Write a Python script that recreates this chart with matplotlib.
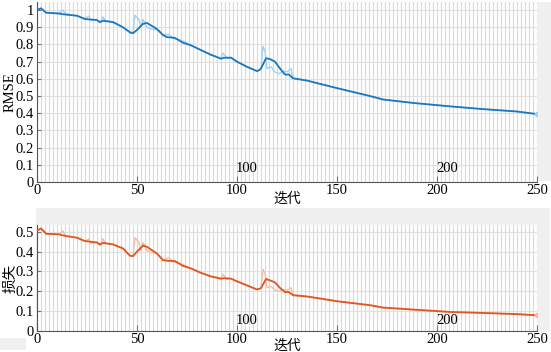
import numpy as np
import matplotlib
matplotlib.use('Agg')
import matplotlib.pyplot as plt
from matplotlib.patches import Rectangle
from matplotlib.ticker import MultipleLocator, FuncFormatter

plt.rcParams['font.family'] = ['Liberation Serif', 'Noto Sans CJK SC']

# Courbe RMSE lissée
it_smooth = [0, 2, 4.5, 11, 13.5, 20, 24, 30, 31.5, 33, 38, 43, 46.5, 48, 50, 53, 55,
             60, 63, 65, 69, 73, 77, 82, 87, 92, 93.5, 97, 100, 105, 110, 111, 112,
             114.5, 116.5, 119, 121.5, 124, 126, 128, 135, 150, 166.5, 173, 188,
             206.5, 223, 240, 250]
rmse_smooth = [1.0, 1.01, 0.985, 0.98, 0.975, 0.967, 0.948, 0.942, 0.93, 0.938, 0.93,
               0.9, 0.87, 0.865, 0.885, 0.92, 0.925, 0.89, 0.855, 0.843, 0.838, 0.81,
               0.795, 0.767, 0.74, 0.717, 0.723, 0.723, 0.70, 0.67, 0.645, 0.65, 0.66,
               0.72, 0.715, 0.70, 0.66, 0.625, 0.625, 0.603, 0.59, 0.546, 0.50, 0.48,
               0.46, 0.44, 0.424, 0.41, 0.395]
loss_smooth = [0.505, 0.517, 0.49, 0.487, 0.48, 0.47, 0.453, 0.446, 0.436, 0.444, 0.436,
               0.416, 0.379, 0.377, 0.40, 0.43, 0.424, 0.39, 0.357, 0.354, 0.352, 0.328,
               0.315, 0.293, 0.275, 0.264, 0.266, 0.264, 0.25, 0.23, 0.209, 0.212, 0.216,
               0.262, 0.255, 0.245, 0.217, 0.196, 0.196, 0.18, 0.174, 0.15, 0.13, 0.118,
               0.108, 0.096, 0.091, 0.085, 0.079]

# Valeurs brutes (bruitées)
it_raw = [0, 2, 5, 11, 13, 14, 20, 24, 26, 27, 30, 31.5, 33, 34, 38, 43, 45, 47, 48, 49,
          51, 52, 53, 55, 57, 60, 63, 66, 68, 72, 77, 82, 87, 92, 93, 95, 97, 100, 105,
          110, 112, 113, 114, 115, 117, 119, 121, 123, 125, 126, 127, 128, 135, 150,
          166.5, 173, 188, 206.5, 223, 240, 250]
rmse_raw = [1.0, 1.01, 0.985, 0.98, 1.0, 0.98, 0.967, 0.95, 0.965, 0.94, 0.945, 0.925,
            0.96, 0.94, 0.93, 0.9, 0.885, 0.87, 0.87, 0.97, 0.945, 0.9, 0.945, 0.9,
            0.89, 0.885, 0.855, 0.86, 0.835, 0.825, 0.795, 0.767, 0.74, 0.72, 0.75,
            0.72, 0.725, 0.70, 0.67, 0.645, 0.655, 0.79, 0.76, 0.66, 0.67, 0.64, 0.63,
            0.645, 0.64, 0.65, 0.66, 0.605, 0.59, 0.546, 0.50, 0.48, 0.46, 0.44, 0.424,
            0.41, 0.395]
loss_raw = [0.505, 0.517, 0.49, 0.487, 0.505, 0.48, 0.47, 0.452, 0.465, 0.442, 0.446,
            0.43, 0.465, 0.442, 0.436, 0.416, 0.392, 0.378, 0.378, 0.47, 0.445, 0.405,
            0.445, 0.405, 0.396, 0.392, 0.357, 0.37, 0.348, 0.34, 0.315, 0.293, 0.275,
            0.26, 0.285, 0.26, 0.264, 0.25, 0.23, 0.209, 0.215, 0.31, 0.29, 0.218, 0.225,
            0.205, 0.2, 0.208, 0.205, 0.21, 0.218, 0.183, 0.174, 0.15, 0.13, 0.118,
            0.108, 0.096, 0.091, 0.085, 0.079]

epoch_marks = [100, 200]
epoch_labels = ['100', '200']

W, H = 551, 352
fig = plt.figure(figsize=(W / 100, H / 100), dpi=100, facecolor='white')

# Fonds gris de la fenêtre
gris = '#f0f0f0'
for (x0, y0, x1, y1) in [(537, 2, 551, 181), (36, 208, 550, 332), (0, 338, 26, 350)]:
    fig.add_artist(Rectangle((x0 / W, 1 - y1 / H), (x1 - x0) / W, (y1 - y0) / H,
                             transform=fig.transFigure, facecolor=gris,
                             edgecolor='none', zorder=0))


def style_axes(ax, ymax, ylabel, yl_font, xl_y):
    ax.set_facecolor('white')
    ax.set_xlim(0, 250)
    ax.set_ylim(0, ymax)
    ax.xaxis.set_major_locator(MultipleLocator(50))
    ax.xaxis.set_minor_locator(MultipleLocator(2))
    ax.yaxis.set_major_locator(MultipleLocator(0.1))
    ax.yaxis.set_major_formatter(FuncFormatter(lambda v, p: ('%g' % round(v, 2))))
    ax.grid(which='minor', axis='x', color='#dadada', lw=0.8)
    ax.grid(which='major', axis='x', color='#dadada', lw=0.8)
    ax.grid(which='major', axis='y', color='#e0e0e0', lw=0.8)
    ax.set_axisbelow(True)
    for s in ['top', 'right']:
        ax.spines[s].set_visible(False)
    for s in ['left', 'bottom']:
        ax.spines[s].set_color('#555555')
        ax.spines[s].set_linewidth(0.8)
    ax.tick_params(axis='x', which='major', direction='in', length=4, color='#777777',
                   labelsize=10.5, pad=1.5)
    ax.tick_params(axis='x', which='minor', length=0)
    ax.tick_params(axis='y', direction='in', length=3, color='#777777', labelsize=10.5, pad=2)
    ax.set_xlabel('迭代', family=['Noto Sans CJK SC'], fontsize=10, va='center')
    ax.xaxis.set_label_coords(0.5, xl_y)
    ax.set_ylabel(ylabel, family=yl_font, fontsize=10.5, va='center')
    ax.yaxis.set_label_coords(-0.054, 0.5)


ax1 = fig.add_axes([37 / W, 1 - 182 / H, 500 / W, 180 / H])
style_axes(ax1, 1.047, 'RMSE', ['Liberation Serif'], -0.094)
ax1.plot(it_raw, rmse_raw, color='#a3d0f0', lw=1.0, zorder=2)
ax1.plot(it_smooth, rmse_smooth, color='#1a78c2', lw=1.3, zorder=3)
ax1.plot(it_raw[-1], rmse_raw[-1], 'o', color='#a3d0f0', ms=3, zorder=4)
for m, lab in zip(epoch_marks, epoch_labels):
    ax1.text(m - 0.5, 0.04, lab, fontsize=10.5, ha='left', va='bottom')

ax2 = fig.add_axes([37 / W, 1 - 331 / H, 500 / W, 106 / H])
style_axes(ax2, 0.534, '损失', ['Noto Sans CJK SC'], -0.142)
ax2.plot(it_raw, loss_raw, color='#f6bda6', lw=1.0, zorder=2)
ax2.plot(it_smooth, loss_smooth, color='#e0561e', lw=1.3, zorder=3)
ax2.plot(it_raw[-1], loss_raw[-1], 'o', color='#f6bda6', ms=3, zorder=4)
for m, lab in zip(epoch_marks, epoch_labels):
    ax2.text(m - 0.5, 0.018, lab, fontsize=10.5, ha='left', va='bottom')

fig.savefig('out.png', dpi=100, facecolor=fig.get_facecolor())
